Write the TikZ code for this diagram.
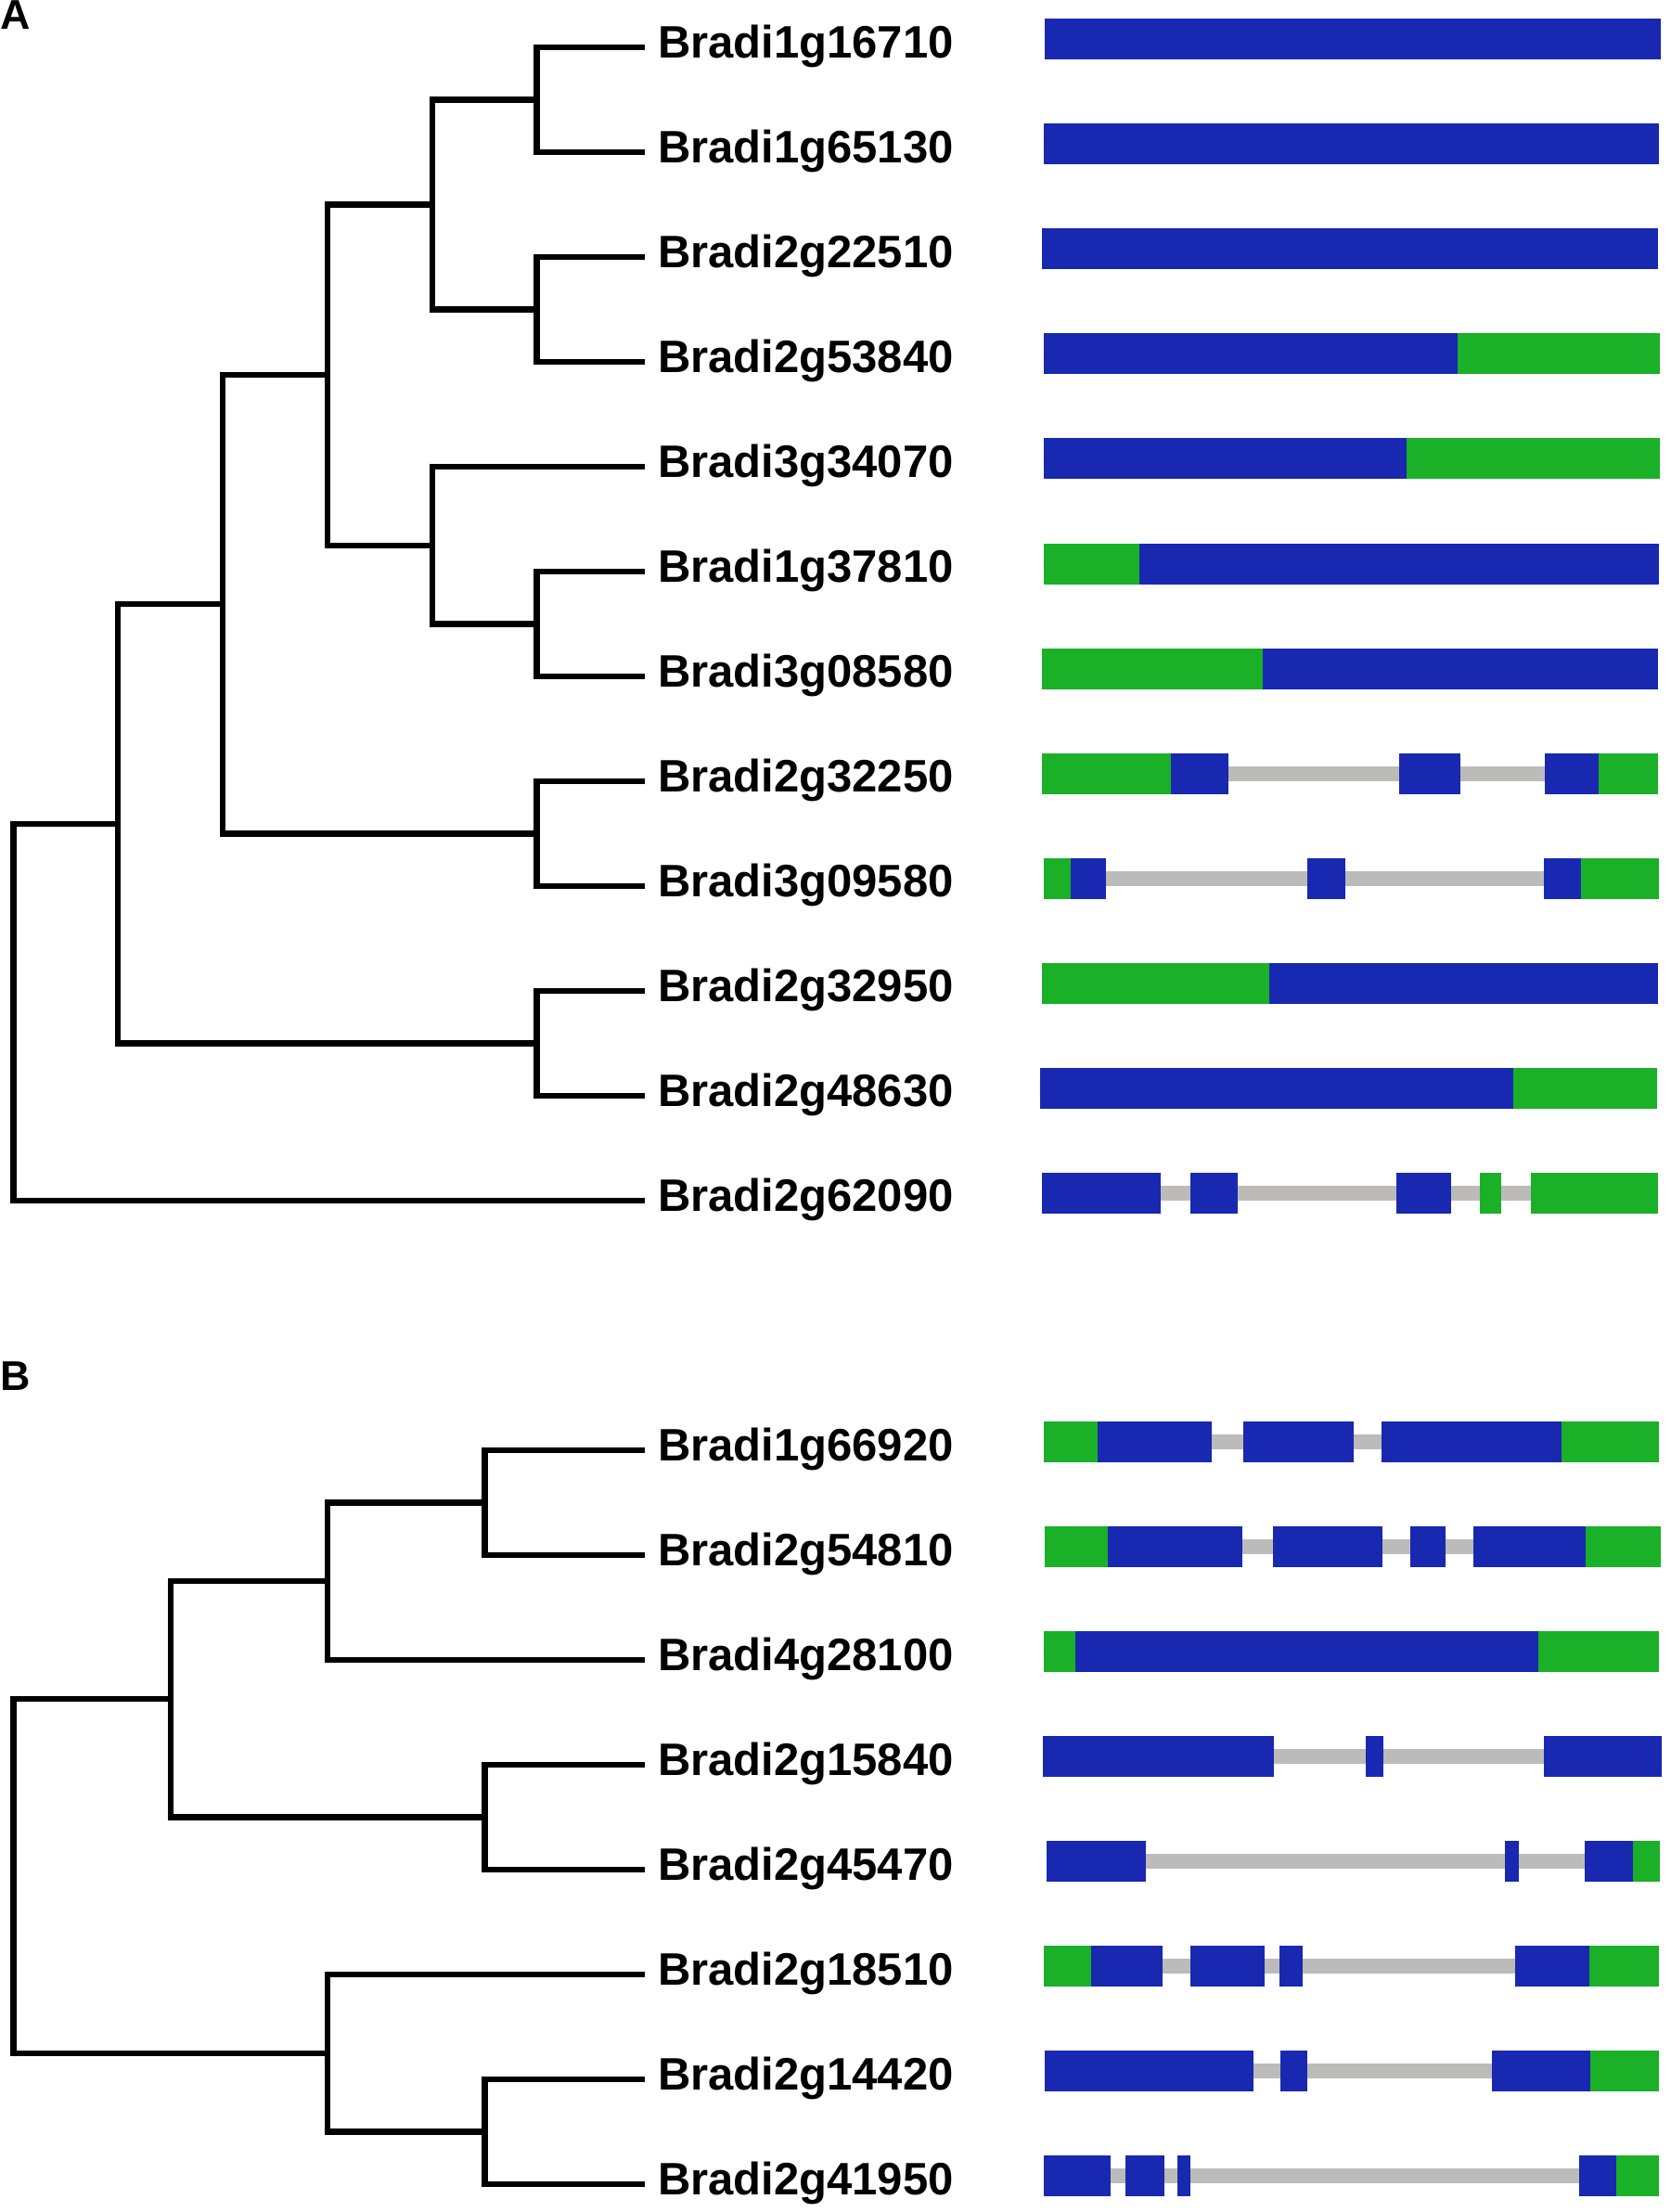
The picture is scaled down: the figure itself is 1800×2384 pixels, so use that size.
\documentclass[tikz,border=0pt]{standalone}
\usepackage{fontspec}
\setmainfont{Liberation Sans}
\definecolor{cdsblue}{RGB}{24,40,176}
\definecolor{utrgreen}{RGB}{26,176,40}
\definecolor{introngray}{RGB}{189,186,186}
\tikzset{
  branch/.style={line width=2.5pt},
  gene/.style={anchor=west,inner xsep=5.6pt,inner ysep=0pt,outer sep=0pt,
    text height=14pt,text depth=4.8pt,font=\fontsize{19.6}{22}\selectfont\bfseries},
  panel/.style={anchor=base west,inner sep=0pt,font=\fontsize{17.9}{20}\selectfont\bfseries},
  cds/.style={fill=cdsblue},
  utr/.style={fill=utrgreen},
  intron/.style={fill=introngray}
}
\begin{document}
\begin{tikzpicture}[x=0.4pt,y=-0.4pt]
\useasboundingbox (0,0) rectangle (1800,2384);
\def\dy{113}
% panel A
\node[panel] (pA) at (0,32) {A};
\foreach \name [count=\i from 0] in {Bradi1g16710,Bradi1g65130,Bradi2g22510,Bradi2g53840,
  Bradi3g34070,Bradi1g37810,Bradi3g08580,Bradi2g32250,Bradi3g09580,Bradi2g32950,
  Bradi2g48630,Bradi2g62090}
  \node[gene] (la\i) at (695,{51+\dy*\i}) {\name};
\coordinate (p01) at (578.5,107.5);
\coordinate (p23) at (578.5,333.5);
\coordinate (p03) at (466,220.5);
\coordinate (p56) at (578.5,672.5);
\coordinate (p46) at (466,587.75);
\coordinate (p06) at (353,404);
\coordinate (p78) at (578.5,898.5);
\coordinate (p08) at (240,651);
\coordinate (p910) at (578.5,1124.5);
\coordinate (p010) at (127,887.75);
\coordinate (proot) at (14.5,1091);
\draw[branch] (p01) |- (la0.west) (p01) |- (la1.west)
  (p23) |- (la2.west) (p23) |- (la3.west)
  (p03) |- (p01) (p03) |- (p23)
  (p56) |- (la5.west) (p56) |- (la6.west)
  (p46) |- (la4.west) (p46) |- (p56)
  (p06) |- (p03) (p06) |- (p46)
  (p78) |- (la7.west) (p78) |- (la8.west)
  (p08) |- (p06) (p08) |- (p78)
  (p910) |- (la9.west) (p910) |- (la10.west)
  (p010) |- (p08) (p010) |- (p910)
  (proot) |- (p010) (proot) |- (la11.west);
% gene structures A
\foreach \c/\ia/\ib/\segs in {
  42/1126/1126/{cds/1126/1790},
  155/1124.5/1124.5/{cds/1124.5/1788},
  268/1123/1123/{cds/1123/1786.5},
  381/1124.5/1124.5/{cds/1124.5/1571,utr/1571/1789},
  494/1124.5/1124.5/{cds/1124.5/1516,utr/1516/1789},
  608/1124.5/1124.5/{utr/1124.5/1228,cds/1228/1788},
  721/1123/1123/{utr/1123/1361,cds/1361/1786.5},
  834/1324/1665/{utr/1123/1262,cds/1262/1324,cds/1508/1573.5,cds/1665/1723,utr/1723/1786.5},
  947/1191.5/1664/{utr/1124.5/1154,cds/1154/1191.5,cds/1409/1450,cds/1664/1704,utr/1704/1788},
  1060/1123/1123/{utr/1123/1368,cds/1368/1786.5},
  1173/1120.5/1120.5/{cds/1120.5/1631,utr/1631/1785.5},
  1286/1251/1650/{cds/1123/1251,cds/1282.5/1333.5,cds/1505/1564,utr/1595/1617.5,utr/1650/1786.5}}{
  \fill[intron] (\ia,\c-8) rectangle (\ib,\c+8);
  \foreach \t/\a/\b in \segs
    \fill[\t] (\a,\c-22.25) rectangle (\b,\c+22.25);
}
% panel B
\node[panel] (pB) at (0,1498) {B};
\foreach \name [count=\i from 0] in {Bradi1g66920,Bradi2g54810,Bradi4g28100,Bradi2g15840,
  Bradi2g45470,Bradi2g18510,Bradi2g14420,Bradi2g41950}
  \node[gene] (lb\i) at (695,{1563+\dy*\i}) {\name};
\coordinate (q01) at (522.5,1619.5);
\coordinate (q02) at (353,1704);
\coordinate (q34) at (522.5,1958.5);
\coordinate (q04) at (184,1831);
\coordinate (q67) at (522.5,2297.5);
\coordinate (q57) at (353,2212.75);
\coordinate (qroot) at (14.5,2022);
\draw[branch] (q01) |- (lb0.west) (q01) |- (lb1.west)
  (q02) |- (q01) (q02) |- (lb2.west)
  (q34) |- (lb3.west) (q34) |- (lb4.west)
  (q04) |- (q02) (q04) |- (q34)
  (q67) |- (lb6.west) (q67) |- (lb7.west)
  (q57) |- (lb5.west) (q57) |- (q67)
  (qroot) |- (q04) (qroot) |- (q57);
% gene structures B
\foreach \c/\ia/\ib/\segs in {
  1554/1306/1488.5/{utr/1124.5/1182.5,cds/1182.5/1306,cds/1340/1459,cds/1488.5/1682.5,utr/1682.5/1788},
  1667/1339/1587.5/{utr/1126/1193.5,cds/1193.5/1339,cds/1371.5/1489.5,cds/1520/1557.5,cds/1587.5/1709,utr/1709/1790},
  1780/1124.5/1124.5/{utr/1124.5/1158.5,cds/1158.5/1657.5,utr/1657.5/1788},
  1893/1373/1664/{cds/1124/1373,cds/1472/1491,cds/1664/1791},
  2006/1235/1708/{cds/1127.5/1235,cds/1621.5/1637,cds/1708/1760,utr/1760/1789},
  2119/1252.5/1633/{utr/1124.5/1176,cds/1176/1252.5,cds/1282.5/1362.5,cds/1378.5/1404,cds/1633/1713,utr/1713/1788},
  2232/1351/1608/{cds/1125.5/1351,cds/1380/1408.5,cds/1608/1714,utr/1714/1788},
  2345/1196.5/1701.5/{cds/1124.5/1196.5,cds/1212.5/1254.5,cds/1268.5/1283,cds/1701.5/1741.5,utr/1741.5/1788}}{
  \fill[intron] (\ia,\c-8) rectangle (\ib,\c+8);
  \foreach \t/\a/\b in \segs
    \fill[\t] (\a,\c-22.25) rectangle (\b,\c+22.25);
}
\end{tikzpicture}
\end{document}
